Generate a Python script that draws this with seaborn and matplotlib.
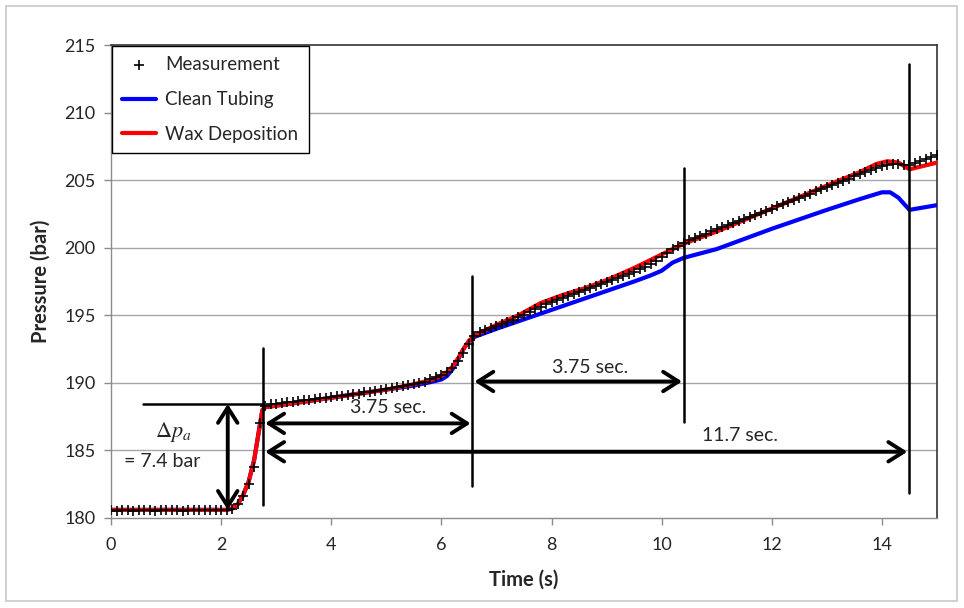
import matplotlib
matplotlib.use("Agg")
import matplotlib.pyplot as plt
import seaborn as sns
import numpy as np
import pandas as pd
from matplotlib.patches import Rectangle

# ---------------- data ----------------
meas_t = [round(0.1 * i, 1) for i in range(151)]
meas_p = [
    180.6, 180.55, 180.6, 180.6, 180.55, 180.6, 180.6, 180.6, 180.55, 180.6,   # 0.0-0.9
    180.6, 180.6, 180.6, 180.55, 180.6, 180.6, 180.6, 180.6, 180.6, 180.6,     # 1.0-1.9
    180.6, 180.6, 180.7, 181.0, 181.6, 182.5, 183.8, 187.0, 188.3, 188.4,      # 2.0-2.9
    188.45, 188.5, 188.55, 188.6, 188.65, 188.7, 188.75, 188.8, 188.85, 188.9, # 3.0-3.9
    188.95, 189.0, 189.05, 189.1, 189.15, 189.2, 189.3, 189.35, 189.4, 189.5,  # 4.0-4.9
    189.55, 189.6, 189.7, 189.75, 189.85, 189.9, 190.0, 190.1, 190.25, 190.4,  # 5.0-5.9
    190.55, 190.8, 191.1, 191.6, 192.2, 192.9, 193.5, 193.75, 193.9, 194.05,   # 6.0-6.9
    194.2, 194.35, 194.5, 194.65, 194.85, 195.05, 195.25, 195.45, 195.65, 195.85,  # 7.0-7.9
    196.0, 196.15, 196.3, 196.45, 196.6, 196.75, 196.9, 197.05, 197.2, 197.3,  # 8.0-8.9
    197.45, 197.6, 197.75, 197.9, 198.05, 198.2, 198.4, 198.6, 198.8, 199.0,   # 9.0-9.9
    199.3, 199.6, 199.9, 200.15, 200.35, 200.55, 200.7, 200.85, 201.0, 201.2,  # 10.0-10.9
    201.35, 201.5, 201.65, 201.8, 201.95, 202.15, 202.3, 202.45, 202.6, 202.75,  # 11.0-11.9
    202.9, 203.1, 203.25, 203.4, 203.55, 203.7, 203.85, 204.0, 204.2, 204.35,  # 12.0-12.9
    204.5, 204.65, 204.8, 204.95, 205.1, 205.3, 205.45, 205.6, 205.75, 205.9,  # 13.0-13.9
    206.05, 206.15, 206.2, 206.2, 206.15, 206.15, 206.3, 206.4, 206.55, 206.7, # 14.0-14.9
    206.85,                                                                     # 15.0
]

wax_t = [0, 2.1, 2.2, 2.3, 2.4, 2.5, 2.6, 2.7, 2.75, 2.8, 3.5, 4.0, 4.5, 5.0, 5.5,
         5.8, 6.0, 6.1, 6.2, 6.3, 6.4, 6.5, 6.6, 7.0, 7.4, 7.8, 8.2, 8.6, 9.0, 9.5,
         10.0, 10.2, 10.4, 11.0, 12.0, 13.0, 13.6, 13.9, 14.1, 14.3, 14.5, 14.7, 15.0]
wax_p = [180.6, 180.6, 180.7, 181.0, 181.7, 182.7, 184.3, 186.8, 188.0, 188.2, 188.6,
         188.9, 189.2, 189.5, 189.9, 190.2, 190.5, 190.8, 191.2, 191.8, 192.5, 193.1,
         193.5, 194.3, 195.0, 195.9, 196.5, 197.0, 197.6, 198.5, 199.5, 199.9, 200.3,
         201.2, 202.9, 204.6, 205.6, 206.2, 206.4, 206.3, 205.8, 206.0, 206.3]

clean_t = [0, 2.1, 2.2, 2.3, 2.4, 2.5, 2.6, 2.7, 2.75, 2.8, 3.5, 4.0, 4.5, 5.0, 5.5,
           5.8, 6.0, 6.1, 6.2, 6.3, 6.4, 6.5, 6.6, 7.0, 8.0, 9.0, 9.5, 9.8, 10.0, 10.2,
           10.4, 11.0, 12.0, 13.0, 13.6, 14.0, 14.15, 14.3, 14.5, 15.0]
clean_p = [180.6, 180.6, 180.7, 181.0, 181.7, 182.7, 184.3, 186.8, 188.0, 188.2, 188.6,
           188.9, 189.2, 189.5, 189.8, 190.05, 190.25, 190.5, 191.0, 191.7, 192.5, 193.1,
           193.4, 194.0, 195.4, 196.8, 197.5, 197.95, 198.3, 198.9, 199.25, 199.9, 201.4,
           202.8, 203.6, 204.1, 204.1, 203.7, 202.8, 203.15]

series_labels = ["Measurement", "Clean Tubing", "Wax Deposition"]
x_ticks = [0, 2, 4, 6, 8, 10, 12, 14]
y_ticks = [180, 185, 190, 195, 200, 205, 210, 215]

# annotation geometry (time, pressure)
vlines_t = [2.76, 6.56, 10.40, 14.49]
vlines_lo = [180.95, 182.4, 187.1, 181.85]
vlines_hi = [192.6, 197.9, 205.9, 213.6]
dp_level = 188.44
dp_base = 180.6
dp_line_t = [0.58, 2.76]
dp_arrow_t = 2.12
h_arrows = [(2.80, 6.53, 187.0), (6.60, 10.37, 190.1), (2.80, 14.46, 184.9)]
h_texts = [(5.03, 188.15, "3.75 sec."), (8.70, 191.1, "3.75 sec."), (11.42, 186.1, "11.7 sec.")]

# ---------------- plotting ----------------
sns.set_style("white")
plt.rcParams["font.family"] = ["Lato", "DejaVu Sans"]
plt.rcParams["mathtext.fontset"] = "stix"

fig = plt.figure(figsize=(9.64, 6.08), dpi=100)
ax = fig.add_axes([111 / 964, 1 - 518 / 608, (937 - 111) / 964, (518 - 45) / 608])

fig.patches.append(Rectangle((6 / 964, 1 - 601 / 608), 951 / 964, 595 / 608,
                             transform=fig.transFigure, fill=False,
                             edgecolor="#c8c8c8", lw=1.2))

ax.set_xlim(0, 15)
ax.set_ylim(180, 215)
ax.set_xticks(x_ticks)
ax.set_yticks(y_ticks)
for y in y_ticks[1:-1]:
    ax.axhline(y, color="#a6a6a6", lw=1.0, zorder=0)

df_meas = pd.DataFrame({"t": meas_t, "p": meas_p})
df_wax = pd.DataFrame({"t": wax_t, "p": wax_p})
df_clean = pd.DataFrame({"t": clean_t, "p": clean_p})

sns.lineplot(data=df_clean, x="t", y="p", ax=ax, color="#0000ff", lw=3.0,
             label=series_labels[1], zorder=3, sort=False)
sns.lineplot(data=df_wax, x="t", y="p", ax=ax, color="#ff0000", lw=3.0,
             label=series_labels[2], zorder=4, sort=False)
sns.scatterplot(data=df_meas, x="t", y="p", ax=ax, marker="+", color="black",
                s=50, linewidth=1.2, label=series_labels[0], zorder=5)

# annotations
for t, lo, hi in zip(vlines_t, vlines_lo, vlines_hi):
    ax.plot([t, t], [lo, hi], color="black", lw=1.8, zorder=6)
ax.plot(dp_line_t, [dp_level, dp_level], color="black", lw=1.8, zorder=6)
arrow_kw = dict(arrowstyle="<->,head_length=0.55,head_width=0.35", lw=2.8,
                color="black", shrinkA=0, shrinkB=0, mutation_scale=20)
ax.annotate("", xy=(dp_arrow_t, dp_base), xytext=(dp_arrow_t, dp_level),
            arrowprops=arrow_kw, zorder=6)
for x1, x2, y in h_arrows:
    ax.annotate("", xy=(x2, y), xytext=(x1, y), arrowprops=arrow_kw, zorder=6)
for x, y, s in h_texts:
    ax.text(x, y, s, ha="center", va="center", fontsize=14)
ax.text(1.13, 186.4, r"$\Delta p_a$", ha="center", va="center", fontsize=16)
ax.text(0.93, 184.15, "= 7.4 bar", ha="center", va="center", fontsize=14)

# axes styling
for side in ["left", "bottom"]:
    ax.spines[side].set_color("#8c8c8c")
    ax.spines[side].set_linewidth(1.0)
for side in ["top", "right"]:
    ax.spines[side].set_color("#333333")
    ax.spines[side].set_linewidth(1.2)
ax.tick_params(axis="both", which="major", direction="out", length=5, width=1,
               color="#8c8c8c", labelsize=13, bottom=True, left=True)
ax.tick_params(axis="x", pad=9)
ax.tick_params(axis="y", pad=6)
ax.set_xlabel("Time (s)", fontsize=14.5, fontweight="bold", labelpad=12)
ax.set_ylabel("Pressure (bar)", fontsize=14.5, fontweight="bold", labelpad=10)

h, l = ax.get_legend_handles_labels()
pairs = sorted(zip(h, l), key=lambda p: series_labels.index(p[1]))
leg = ax.legend([p[0] for p in pairs], [p[1] for p in pairs], loc="upper left",
                bbox_to_anchor=(0.001, 0.998), borderaxespad=0, fancybox=False,
                edgecolor="black", framealpha=1, fontsize=13.5, handlelength=1.8,
                labelspacing=0.95, borderpad=0.55, handletextpad=0.5)
leg.get_frame().set_linewidth(1.0)

fig.savefig("out.png", dpi=100)
